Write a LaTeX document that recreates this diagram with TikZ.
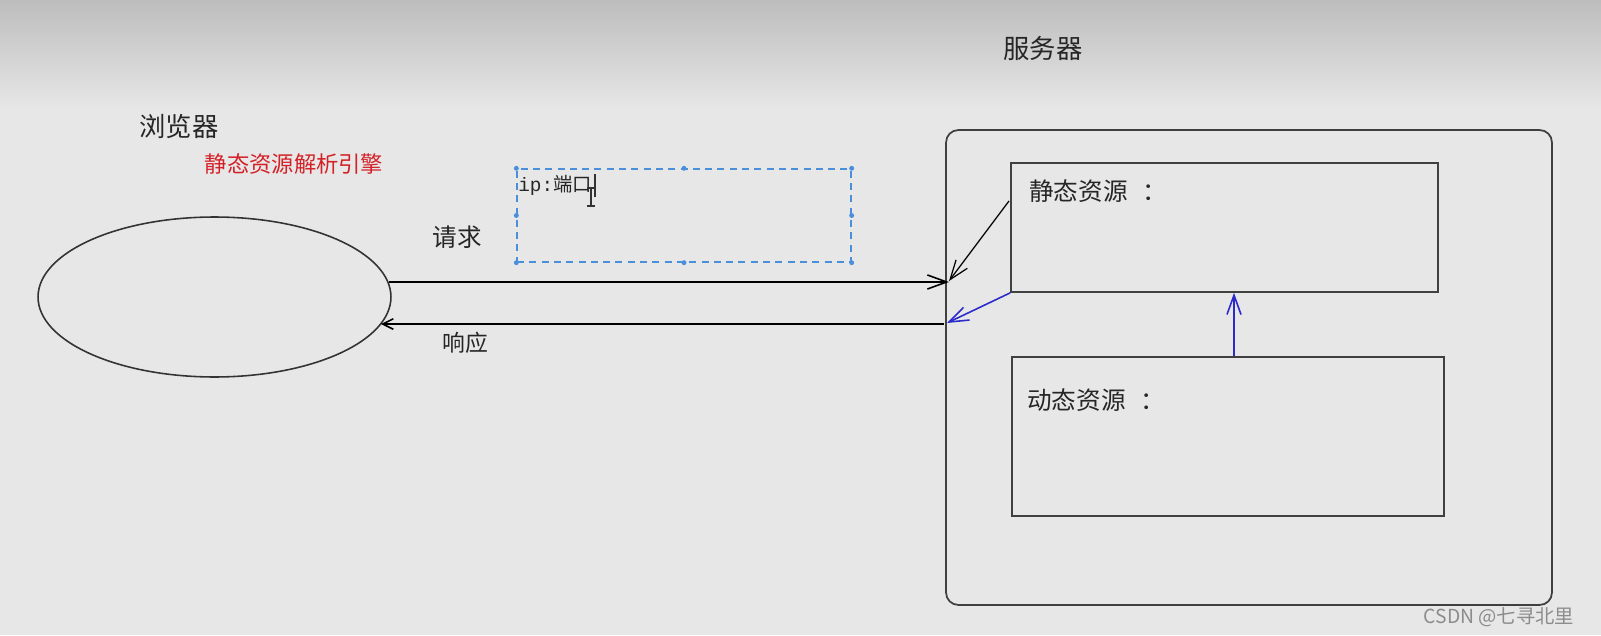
\documentclass[tikz,border=0pt]{standalone}
\usepackage{fontspec}
\setmainfont{Noto Sans CJK SC}
\newfontfamily\monofont{Liberation Mono}
\usepackage{xcolor}
\usetikzlibrary{arrows.meta, shapes.geometric, positioning}
\definecolor{hintred}{HTML}{D42128}
\definecolor{selblue}{HTML}{4A8FDB}
\definecolor{penblue}{HTML}{2B2BCC}
\definecolor{bgtop}{HTML}{BDBDBD}
\definecolor{bgbody}{HTML}{E7E7E7}
\newcommand{\fsz}[1]{\fontsize{#1}{#1}\selectfont}

\begin{document}
\begin{tikzpicture}[x=0.02cm, y=-0.02cm,
  box/.style={rectangle, draw=black!75, line width=1pt, inner sep=0pt},
  txt/.style={inner sep=0pt, text=black!85},
  pen/.style={line width=0.9pt, -{Straight Barb[length=11pt,width=8pt]}},
  bluepen/.style={pen, penblue}]

  % background
  \fill[bgbody] (0,0) rectangle (1601,635);
  \shade[top color=bgtop, bottom color=bgbody] (0,0) rectangle (1601,110);
  \useasboundingbox (0,0) rectangle (1601,635);

  % browser side
  \node[ellipse, draw=black!80, line width=0.9pt, minimum width=7.06cm, minimum height=3.2cm, inner sep=0pt] (browser) at (214.5,297) {};
  \node[txt, font=\fsz{15pt}] (browsername) at (179,126) {浏览器};
  \node[txt, font=\fsz{12.7pt}, text=hintred] (engine) at (294,164) {静态资源解析引擎};

  % server side
  \node[box, rounded corners=7pt, minimum width=12.12cm, minimum height=9.5cm] (server) at (1249,367.5) {};
  \node[txt, font=\fsz{15pt}] (servername) at (1043,48) {服务器};
  \node[box, minimum width=8.54cm, minimum height=2.58cm] (static) at (1224.5,227.5) {};
  \node[box, minimum width=8.64cm, minimum height=3.18cm] (dynamic) at (1228,436.5) {};
  \node[txt, font=\fsz{14pt}, anchor=west] (statictext) at (1029,191) {静态资源\hspace{0.6em}：};
  \node[txt, font=\fsz{14pt}, anchor=west] (dynamictext) at (1027,400) {动态资源\hspace{0.6em}：};

  % address box
  \node[rectangle, draw=selblue, line width=0.8pt, dash pattern=on 4pt off 3pt, minimum width=6.68cm, minimum height=1.86cm, inner sep=0pt] (ipbox) at (684,215.5) {};
  \foreach \a in {north west, north, north east, east, south east, south, south west, west}
    \fill[selblue] (ipbox.\a) circle (1.4pt);
  \node[txt, font=\fsz{11pt}, anchor=west] (iptext) at (518,185) {{\monofont ip:}端口};
  \draw[black!80, line width=0.6pt] (595,174) -- (595,197);
  \draw[black!80, line width=0.6pt] (591,188) -- (591,206) (587,188) -- (595,188) (587,206) -- (595,206);

  % labels on the arrows
  \node[txt, font=\fsz{14pt}] (request) at (457,237) {请求};
  \node[txt, font=\fsz{13pt}] (response) at (465,343) {响应};
  \node[txt, font=\fsz{11pt}, text=black!45] (mark) at (1499,617) {CSDN @七寻北里};

  % connectors
  \coordinate (reqa) at (389,282);
  \coordinate (reqb) at (949,282);
  \coordinate (resa) at (944,324);
  \coordinate (resb) at (381,324);
  \coordinate (diaga) at (1009,201);
  \coordinate (diagb) at (949,281);
  \coordinate (upx) at (1234,0);
  \coordinate (blueb) at (947,323);

  \path[pen]
  (reqa) edge (reqb)
  (resa) edge[-{Straight Barb[length=6pt,width=6pt]}] (resb)
  (diaga) edge[line width=0.7pt] (diagb)
  ;
  \path[bluepen]
  (dynamic.north -| upx) edge (static.south -| upx)
  (static.south west) edge (blueb)
  ;

\end{tikzpicture}
\end{document}
